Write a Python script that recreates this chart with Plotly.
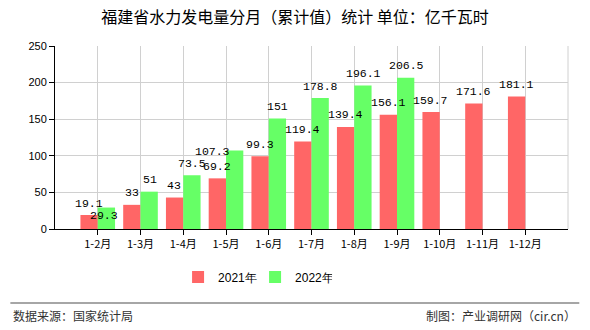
import plotly.graph_objects as go

categories = ["1-2月", "1-3月", "1-4月", "1-5月", "1-6月", "1-7月", "1-8月", "1-9月", "1-10月", "1-11月", "1-12月"]
values_2021 = [19.1, 33, 43, 69.2, 99.3, 119.4, 139.4, 156.1, 159.7, 171.6, 181.1]
values_2022 = [29.3, 51, 73.5, 107.3, 151, 178.8, 196.1, 206.5, None, None, None]
y_ticks = [0, 50, 100, 150, 200, 250]

font_cjk = "Noto Sans CJK SC"
label_font = dict(family="Liberation Mono", size=11.5, color="#000")

# label placement nudges (pixels) mimicking the reference's overlap avoidance
nudges_2022 = {0: (-3, -20), 3: (-23, -13)}

def fmt(v):
    return "%g" % v

fig = go.Figure()
fig.add_trace(go.Bar(
    name="2021年", x=categories, y=values_2021,
    marker=dict(color="#ff6666", line=dict(width=0)),
))
fig.add_trace(go.Bar(
    name="2022年", x=categories, y=values_2022,
    marker=dict(color="#66ff66", line=dict(width=0)),
))

annotations = []
for i, (c, v) in enumerate(zip(categories, values_2021)):
    annotations.append(dict(x=c, y=v, text=fmt(v), showarrow=False, xref="x", yref="y",
                            xshift=-9, yshift=12, yanchor="middle", xanchor="center",
                            font=label_font))
for i, (c, v) in enumerate(zip(categories, values_2022)):
    if v is None:
        continue
    dx, dy = nudges_2022.get(i, (0, 0))
    annotations.append(dict(x=c, y=v, text=fmt(v), showarrow=False, xref="x", yref="y",
                            xshift=9 + dx, yshift=12 + dy, yanchor="middle", xanchor="center",
                            font=label_font))

annotations += [
    dict(text="数据来源：国家统计局", xref="paper", yref="paper", x=-0.085, y=-0.475,
         xanchor="left", yanchor="middle", showarrow=False,
         font=dict(family=font_cjk, size=12, color="#333")),
    dict(text="制图：产业调研网（cir.cn）", xref="paper", yref="paper", x=1.02, y=-0.475,
         xanchor="right", yanchor="middle", showarrow=False,
         font=dict(family=font_cjk, size=12, color="#333")),
]

fig.update_layout(
    width=590, height=330,
    margin=dict(l=55, r=22, t=46, b=101),
    paper_bgcolor="white", plot_bgcolor="white",
    barmode="group", bargap=0.19, bargroupgap=0,
    font=dict(family=font_cjk, size=11, color="#000"),
    title=dict(text="福建省水力发电量分月（累计值）统计 单位：亿千瓦时",
               x=0.5, xanchor="center", y=0.948, yanchor="middle",
               font=dict(family=font_cjk, size=16, color="#000")),
    legend=dict(orientation="h", x=0.39, xanchor="center", y=-0.262, yanchor="middle",
                font=dict(family="Liberation Sans", size=12, color="#000"),
                traceorder="normal", entrywidthmode="pixels", entrywidth=32),
    xaxis=dict(
        type="category", range=[-1, 11],
        showgrid=True, gridcolor="#d0d0d0", gridwidth=1,
        showline=True, linecolor="#000", linewidth=1,
        ticks="outside", ticklen=5, tickcolor="#000",
        tickfont=dict(family=font_cjk, size=11, color="#000"),
    ),
    yaxis=dict(
        range=[0, 250], tickvals=y_ticks,
        showgrid=True, gridcolor="#d0d0d0", gridwidth=1,
        showline=True, linecolor="#000", linewidth=1,
        ticks="outside", ticklen=5, tickcolor="#000",
        tickfont=dict(family="Liberation Sans", size=11, color="#000"),
        zeroline=False,
    ),
    shapes=[
        dict(type="line", xref="paper", yref="paper", x0=1, x1=1, y0=0, y1=1,
             line=dict(color="#d0d0d0", width=1)),
        dict(type="line", xref="paper", yref="paper", x0=-0.087, x1=1.022, y0=-0.405, y1=-0.405,
             line=dict(color="#888", width=1.5)),
    ],
    annotations=annotations,
)

fig.write_html("out.html")
